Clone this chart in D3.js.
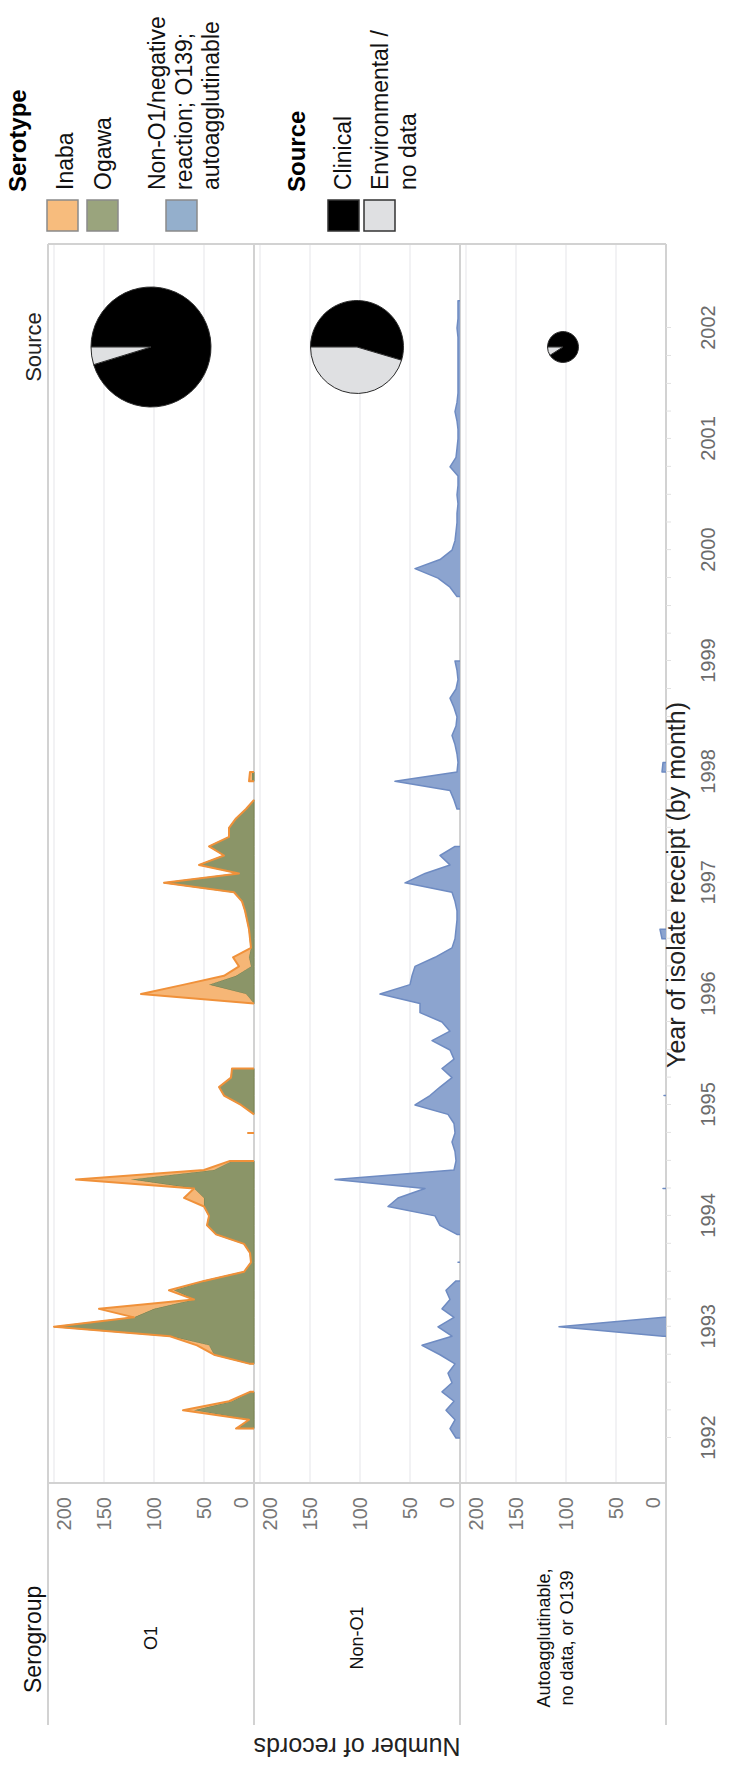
<!DOCTYPE html>
<html>
<head>
<meta charset="utf-8" />
<style>
  body { margin: 0; background: #fff; }
  svg { display: block; font-family: "Liberation Sans", Arial, sans-serif; }
</style>
</head>
<body>
<svg id="chart" width="747" height="1765"></svg>
<script src="https://cdn.jsdelivr.net/npm/d3@7/dist/d3.min.js"></script>
<script>

// ---- data ----
const serogroups = ['O1', 'Non-O1', 'Autoagglutinable,\nno data, or O139']
const yTicks = [0, 50, 100, 150, 200]
const years = [1992, 1993, 1994, 1995, 1996, 1997, 1998, 1999, 2000, 2001, 2002]

// O1: Ogawa (bottom) and Inaba (stacked on top), by month
const o1Months = ['1992-02','1992-03','1992-04','1992-05','1992-06',
  '1992-09','1992-10','1992-11','1992-12','1993-01','1993-02','1993-03','1993-04','1993-05','1993-06',
  '1993-07','1993-08','1993-09','1993-10','1993-11','1993-12','1994-01','1994-02','1994-03','1994-04',
  '1994-05','1994-06','1994-07',
  '1994-10',
  '1994-12','1995-01','1995-02','1995-03','1995-04','1995-05',
  '1995-12','1996-01','1996-02','1996-03','1996-04','1996-05','1996-06','1996-07','1996-08','1996-09',
  '1996-10','1996-11','1996-12','1997-01','1997-02','1997-03','1997-04','1997-05','1997-06','1997-07',
  '1997-08','1997-09','1997-10',
  '1997-12','1998-01']
const ogawa = [16, 5, 60, 22, 4,
  4, 40, 45, 84, 200, 120, 100, 60, 80, 50,
  10, 3, 4, 10, 38, 47, 45, 50, 50, 60,
  123, 40, 22,
  6,
  0, 13, 30, 35, 23, 22,
  0, 8, 45, 18, 3, 5, 3, 4, 5, 7,
  9, 12, 20, 90, 15, 55, 30, 45, 25, 25,
  18, 8, 0,
  2, 2]
const inaba = [2, 0, 11, 3, 0,
  0, 0, 12, 0, 0, 0, 55, 0, 5, 0,
  0, 0, 0, 0, 0, 0, 0, 0, 20, 0,
  55, 10, 2,
  0,
  0, 0, 0, 0, 0, 0,
  0, 105, 25, 12, 12, 16, 0, 0, 0, 0,
  0, 0, 0, 0, 0, 0, 0, 0, 0, 0,
  0, 0, 0,
  3, 2]

// Non-O1 / negative reaction, by month
const nonO1Months = ['1992-01','1992-02','1992-03','1992-04','1992-05','1992-06','1992-07','1992-08','1992-09',
  '1992-10','1992-11','1992-12','1993-01','1993-02','1993-03','1993-04','1993-05','1993-06',
  '1993-08',
  '1993-11','1993-12','1994-01','1994-02','1994-03','1994-04','1994-05','1994-06',
  '1994-07','1994-08','1994-09','1994-10','1994-11','1994-12','1995-01','1995-02','1995-03','1995-04',
  '1995-05','1995-06','1995-07','1995-08','1995-09','1995-10','1995-11','1995-12','1996-01','1996-02',
  '1996-03','1996-04','1996-05','1996-06','1996-07','1996-08','1996-09','1996-10','1996-11','1996-12',
  '1997-01','1997-02','1997-03','1997-04','1997-05',
  '1997-09','1997-10','1997-11','1997-12','1998-01','1998-02','1998-03','1998-04','1998-05','1998-06',
  '1998-07','1998-08','1998-09','1998-10','1998-11','1998-12','1999-01',
  '1999-08','1999-09','1999-10','1999-11','1999-12','2000-01','2000-02','2000-03','2000-04','2000-05',
  '2000-06','2000-07','2000-08','2000-09','2000-10','2000-11','2000-12','2001-01','2001-02','2001-03',
  '2001-04','2001-05','2001-06','2001-07','2001-08','2001-09','2001-10','2001-11','2001-12','2002-01',
  '2002-02','2002-03','2002-04']
const nonO1 = [4, 10, 5, 14, 6, 18, 8, 12, 5,
  20, 38, 8, 22, 6, 18, 10, 14, 4,
  2,
  3, 20, 25, 72, 62, 35, 125, 6,
  4, 5, 8, 5, 6, 12, 45, 30, 20, 8,
  18, 6, 10, 28, 10, 18, 40, 40, 80, 50,
  48, 45, 25, 8, 5, 4, 3, 3, 5, 8,
  55, 35, 10, 20, 5,
  3, 6, 10, 65, 3, 2, 3, 5, 8, 4,
  3, 6, 10, 4, 2, 3, 5,
  3, 10, 22, 45, 20, 8, 5, 4, 3, 3,
  2, 3, 2, 2, 10, 4, 3, 2, 2, 3,
  5, 3, 2, 2, 2, 2, 2, 2, 2, 3,
  2, 2, 2]

// Autoagglutinable / no data / O139, by month
const autoMonths = ['1992-12','1993-01','1993-02','1994-04','1995-02','1996-07','1996-08','1998-01','1998-02']
const autoVals = [3, 107, 2, 3, 2, 4, 6, 4, 3]

// Source pies: [clinical, environmental / no data] per serogroup
const sourceO1 = [1905, 95]
const sourceNonO1 = [655, 545]
const sourceAuto = [121, 12]

// ---- layout (drawn landscape, then turned a quarter left) ----
const W = 1765, H = 747
const plot = { left: 282, right: 1521, top: 48, bottom: 666 }
const rowH = (plot.bottom - plot.top) / 3

const svg = d3.select('#chart')
const g = svg.append('g').attr('transform', `translate(0,${W}) rotate(-90)`)

const parse = d3.timeParse('%Y-%m')
const x = d3.scaleTime()
  .domain([new Date(1992, 0, 1), new Date(2002, 0, 1)])
  .range([327, 1437])
const y = d3.scaleLinear().domain([0, 206]).range([rowH, 0])

const colors = {
  ogawa: '#8b9568', ogawaLine: '#78824f',
  inaba: '#f6b26f', inabaLine: '#f0913a',
  blue: '#8ca4cf', blueLine: '#6e8bc2'
}

// gridlines
for (let r = 0; r < 3; r++) {
  const row = g.append('g').attr('transform', `translate(0,${plot.top + r * rowH})`)
  row.selectAll('line.grid').data(yTicks.slice(1)).join('line')
    .attr('x1', plot.left).attr('x2', plot.right)
    .attr('y1', d => y(d)).attr('y2', d => y(d))
    .attr('stroke', '#eeeef1').attr('stroke-width', 1.5)
}

// row separators, running through the header column
d3.range(4).forEach(r => {
  g.append('line')
    .attr('x1', 40).attr('x2', plot.right)
    .attr('y1', plot.top + r * rowH).attr('y2', plot.top + r * rowH)
    .attr('stroke', '#d2d2d2').attr('stroke-width', 2)
})
g.append('line')
  .attr('x1', plot.left).attr('x2', plot.left)
  .attr('y1', plot.top).attr('y2', plot.bottom)
  .attr('stroke', '#d2d2d2').attr('stroke-width', 2)
g.append('line')
  .attr('x1', plot.right).attr('x2', plot.right)
  .attr('y1', plot.top).attr('y2', plot.bottom)
  .attr('stroke', '#d2d2d2').attr('stroke-width', 2)

// split monthly rows into runs with no missing month
function runs(rows) {
  const out = []
  rows.forEach((r, i) => {
    if (i === 0 || d3.timeMonth.count(rows[i - 1].date, r.date) > 1) out.push([])
    out[out.length - 1].push(r)
  })
  return out
}

function outline(seg, val) {
  const first = seg[0].date, last = seg[seg.length - 1].date
  return [{ date: first, v: 0 }, ...seg.map(d => ({ date: d.date, v: val(d) })), { date: last, v: 0 }]
}

const lineGen = d3.line().x(d => x(d.date)).y(d => y(d.v))

// O1 row
const o1Rows = o1Months.map((m, i) => ({ date: parse(m), og: ogawa[i], in: inaba[i] }))
const o1G = g.append('g').attr('transform', `translate(0,${plot.top})`)
runs(o1Rows).forEach(seg => {
  o1G.append('path').datum(seg)
    .attr('d', d3.area().x(d => x(d.date)).y0(y(0)).y1(d => y(d.og)))
    .attr('fill', colors.ogawa).attr('stroke', colors.ogawaLine).attr('stroke-width', 1)
  o1G.append('path').datum(seg)
    .attr('d', d3.area().x(d => x(d.date)).y0(d => y(d.og)).y1(d => y(d.og + d.in)))
    .attr('fill', colors.inaba).attr('fill-opacity', 0.95)
  o1G.append('path').datum(outline(seg, d => d.og + d.in))
    .attr('d', lineGen)
    .attr('fill', 'none').attr('stroke', colors.inabaLine).attr('stroke-width', 2)
    .attr('stroke-linejoin', 'round')
})

// blue rows
function blueRow(months, vals, r) {
  const rows = months.map((m, i) => ({ date: parse(m), v: vals[i] }))
  const rg = g.append('g').attr('transform', `translate(0,${plot.top + r * rowH})`)
  runs(rows).forEach(seg => {
    rg.append('path').datum(seg)
      .attr('d', d3.area().x(d => x(d.date)).y0(y(0)).y1(d => y(d.v)))
      .attr('fill', colors.blue)
    rg.append('path').datum(outline(seg, d => d.v))
      .attr('d', lineGen)
      .attr('fill', 'none').attr('stroke', colors.blueLine).attr('stroke-width', 1.5)
      .attr('stroke-linejoin', 'round')
  })
}
blueRow(nonO1Months, nonO1, 1)
blueRow(autoMonths, autoVals, 2)

// pies
const rScale = d3.scaleSqrt().domain([0, 2000]).range([0, 60])
const pie = d3.pie().sort(null)
const pieColors = ['#000000', '#dfe0e2'];
[sourceO1, sourceNonO1, sourceAuto].forEach((vals, r) => {
  const rad = rScale(d3.sum(vals))
  const pg = g.append('g').attr('transform', `translate(1418,${plot.top + r * rowH + rowH / 2})`)
  pg.selectAll('path').data(pie(vals)).join('path')
    .attr('d', d3.arc().innerRadius(0).outerRadius(rad))
    .attr('fill', (d, i) => pieColors[i])
    .attr('stroke', '#2a2a2a').attr('stroke-width', 1)
})
g.append('text')
  .attr('x', 1418).attr('y', 41)
  .attr('text-anchor', 'middle')
  .attr('font-size', 22).attr('fill', '#222')
  .text('Source')

// y axes
for (let r = 0; r < 3; r++) {
  const ax = g.append('g')
    .attr('transform', `translate(${plot.left},${plot.top + r * rowH})`)
    .call(d3.axisLeft(y).tickValues(yTicks).tickSize(0).tickPadding(14))
  ax.select('.domain').remove()
  ax.selectAll('text')
    .attr('font-family', '"Liberation Sans", Arial, sans-serif')
    .attr('font-size', 20).attr('fill', '#777')
    .attr('y', d => d === 0 ? -13 : d === 200 ? 10 : 0)
}

// x axis: quarter ticks, axis title, then year labels
const xTickAx = g.append('g')
  .attr('transform', `translate(0,${plot.bottom})`)
  .call(d3.axisBottom(x).ticks(d3.timeMonth.every(3)).tickSize(5).tickFormat(''))
xTickAx.select('.domain').remove()
xTickAx.selectAll('line').attr('stroke', '#e2e2e2')

g.append('text')
  .attr('x', 880).attr('y', plot.bottom + 19)
  .attr('text-anchor', 'middle')
  .attr('font-size', 25).attr('fill', '#222')
  .text('Year of isolate receipt (by month)')

const xLabAx = g.append('g')
  .attr('transform', `translate(0,${plot.bottom})`)
  .call(d3.axisBottom(x).tickValues(years.map(yy => new Date(yy, 0, 1)))
    .tickSize(0).tickPadding(35).tickFormat(d3.timeFormat('%Y')))
xLabAx.select('.domain').remove()
xLabAx.selectAll('text')
  .attr('font-family', '"Liberation Sans", Arial, sans-serif')
  .attr('font-size', 20).attr('fill', '#6b6b6b')

g.append('text')
  .attr('transform', `translate(27,${(plot.top + plot.bottom) / 2}) rotate(-90)`)
  .attr('text-anchor', 'middle')
  .attr('font-size', 25).attr('fill', '#222')
  .text('Number of records')

// row header column
g.append('text')
  .attr('x', 72).attr('y', 41)
  .attr('font-size', 23).attr('fill', '#111')
  .text('Serogroup')
serogroups.forEach((s, r) => {
  const lines = s.split('\n')
  const cy = plot.top + r * rowH + rowH / 2 - (r === 2 ? 8 : 0)
  const t = g.append('text')
    .attr('text-anchor', 'middle')
    .attr('font-size', 18).attr('fill', '#111')
  lines.forEach((ln, i) => {
    t.append('tspan')
      .attr('x', 127)
      .attr('y', cy + 6 + (i - (lines.length - 1) / 2) * 23)
      .text(ln)
  })
})

// legends
const legX = 1534, legText = 1575
g.append('text')
  .attr('x', 1573).attr('y', 26)
  .attr('font-size', 24).attr('font-weight', 'bold').attr('fill', '#000')
  .text('Serotype')
const serotypeItems = [
  { fill: '#f7bc7d', top: 47, lines: ['Inaba'], first: 73 },
  { fill: '#9aa47d', top: 87, lines: ['Ogawa'], first: 111 },
  { fill: '#94afcc', top: 166, lines: ['Non-O1/negative', 'reaction; O139;', 'autoagglutinable'], first: 165 }
]
serotypeItems.forEach(it => {
  g.append('rect')
    .attr('x', legX).attr('y', it.top).attr('width', 31).attr('height', 31)
    .attr('fill', it.fill).attr('stroke', '#8a8a8a').attr('stroke-width', 1.5)
  it.lines.forEach((ln, i) => {
    g.append('text')
      .attr('x', legText).attr('y', it.first + i * 27)
      .attr('font-size', 23).attr('fill', '#111')
      .text(ln)
  })
})

g.append('text')
  .attr('x', 1573).attr('y', 305)
  .attr('font-size', 24).attr('font-weight', 'bold').attr('fill', '#000')
  .text('Source')
const sourceItems = [
  { fill: pieColors[0], top: 328, lines: ['Clinical'], first: 351 },
  { fill: pieColors[1], top: 364, lines: ['Environmental /', 'no data'], first: 388 }
]
sourceItems.forEach(it => {
  g.append('rect')
    .attr('x', legX).attr('y', it.top).attr('width', 31).attr('height', 31)
    .attr('fill', it.fill).attr('stroke', '#333').attr('stroke-width', 1.5)
  it.lines.forEach((ln, i) => {
    g.append('text')
      .attr('x', legText).attr('y', it.first + i * 28)
      .attr('font-size', 23).attr('fill', '#111')
      .text(ln)
  })
})

</script>
</body>
</html>
